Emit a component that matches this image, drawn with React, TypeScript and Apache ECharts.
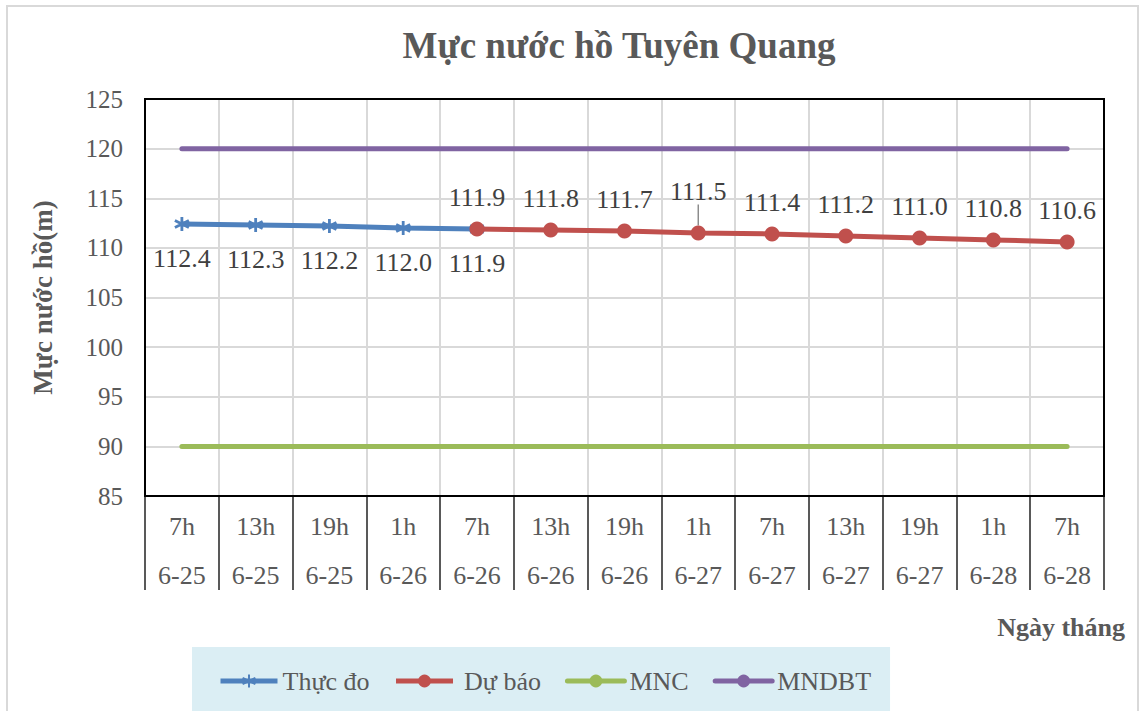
import React, { useEffect, useRef } from "react";
import * as echarts from "echarts";

const hours = ["7h", "13h", "19h", "1h", "7h", "13h", "19h", "1h", "7h", "13h", "19h", "1h", "7h"];
const dates = ["6-25", "6-25", "6-25", "6-26", "6-26", "6-26", "6-26", "6-27", "6-27", "6-27", "6-27", "6-28", "6-28"];
const thucDo = [112.4, 112.3, 112.2, 112.0, 111.9, null, null, null, null, null, null, null, null];
const duBao = [null, null, null, null, 111.9, 111.8, 111.7, 111.5, 111.4, 111.2, 111.0, 110.8, 110.6];
const mnc = [90, 90, 90, 90, 90, 90, 90, 90, 90, 90, 90, 90, 90];
const mndbt = [120, 120, 120, 120, 120, 120, 120, 120, 120, 120, 120, 120, 120];
const yTicks = { min: 85, max: 125, interval: 5 };

const FONT = "'Liberation Serif', 'Times New Roman', Times, serif";
const GRID = { left: 145, top: 99, right: 38, bottom: 215 };

export default function App() {
  const ref = useRef<HTMLDivElement>(null);
  useEffect(() => {
    if (!ref.current) return;
    const chart = echarts.init(ref.current, null, { renderer: "svg" });
    const categories = hours.map((h, i) => h + "\n" + dates[i]);
    const starPath = "path://M5,0L5,10M0.7,2.5L9.3,7.5M0.7,7.5L9.3,2.5";
    const fmt = (p: any) => Number(p.value).toFixed(1);
    chart.setOption({
      animation: false,
      backgroundColor: "#ffffff",
      textStyle: { fontFamily: FONT },
      title: {
        text: "Mực nước hồ Tuyên Quang",
        left: 614,
        top: 22,
        textAlign: "center",
        textStyle: { fontFamily: FONT, fontSize: 37, fontWeight: "bold", color: "#595959" },
      },
      grid: { ...GRID, containLabel: false },
      legend: {
        left: 192,
        top: 647,
        backgroundColor: "#dbeef4",
        padding: [21, 19, 23, 26],
        itemWidth: 57,
        itemHeight: 16,
        itemGap: 24,
        lineStyle: { width: 5 },
        textStyle: { fontFamily: FONT, fontSize: 26, color: "#595959" },
        data: [
          { name: "Thực đo" },
          { name: "Dự báo", textStyle: { padding: [0, 0, 0, 6] } },
          { name: "MNC" },
          { name: "MNDBT" },
        ],
      },
      xAxis: {
        type: "category",
        data: categories,
        boundaryGap: true,
        axisLine: { show: false },
        axisTick: { show: true, interval: 0, length: 94, lineStyle: { color: "#222", width: 1.5 } },
        axisLabel: {
          interval: 0,
          fontFamily: FONT,
          fontSize: 26,
          color: "#595959",
          lineHeight: 49,
          margin: 6,
        },
        splitLine: { show: true, interval: 0, lineStyle: { color: "#d9d9d9", width: 2 } },
      },
      yAxis: {
        type: "value",
        min: yTicks.min,
        max: yTicks.max,
        interval: yTicks.interval,
        axisLine: { show: false },
        axisTick: { show: false },
        axisLabel: { fontFamily: FONT, fontSize: 25, color: "#595959", margin: 22 },
        splitLine: { show: true, lineStyle: { color: "#d9d9d9", width: 2 } },
        name: "Mực nước hồ(m)",
        nameLocation: "middle",
        nameGap: 89,
        nameTextStyle: { fontFamily: FONT, fontSize: 27, fontWeight: "bold", color: "#595959" },
      },
      graphic: [
        {
          type: "rect",
          shape: { x: 7, y: 6, width: 1131, height: 720 },
          style: { fill: "none", stroke: "#d9d9d9", lineWidth: 2 },
          z: -10,
          silent: true,
        },
        {
          type: "rect",
          shape: { x: 145, y: 99, width: 959, height: 397 },
          style: { fill: "none", stroke: "#000", lineWidth: 2 },
          z: 50,
          silent: true,
        },
        {
          type: "text",
          right: 17,
          top: 614,
          style: { text: "Ngày tháng", fontFamily: FONT, fontSize: 26, fontWeight: "bold", fill: "#595959" },
        },
      ],
      series: [
        {
          name: "Thực đo",
          type: "line",
          data: thucDo,
          color: "#4F81BD",
          lineStyle: { width: 5, color: "#4F81BD" },
          symbol: starPath,
          symbolSize: 14,
          showAllSymbol: true,
          itemStyle: { color: "#4F81BD", borderColor: "#4F81BD", borderWidth: 2.8 },
          label: {
            show: true,
            position: "bottom",
            distance: 13,
            fontFamily: FONT,
            fontSize: 26,
            color: "#404040",
            formatter: fmt,
          },
          z: 3,
        },
        {
          name: "Dự báo",
          type: "line",
          data: duBao.map((v, i) => (i === 7 ? { value: v, labelLine: { show: true } } : v)),
          color: "#C0504D",
          lineStyle: { width: 5, color: "#C0504D" },
          symbol: "circle",
          symbolSize: 15,
          itemStyle: { color: "#C0504D" },
          label: {
            show: true,
            position: "top",
            distance: 11,
            fontFamily: FONT,
            fontSize: 26,
            color: "#404040",
            formatter: fmt,
          },
          labelLine: { show: false, lineStyle: { color: "#8c8c8c", width: 1.5 } },
          labelLayout: (p: any) => (p.dataIndex === 7 ? { dy: -10 } : {}),
          z: 4,
        },
        {
          name: "MNC",
          type: "line",
          data: mnc,
          color: "#9BBB59",
          lineStyle: { width: 5, color: "#9BBB59", cap: "round" },
          symbol: "none",
        },
        {
          name: "MNDBT",
          type: "line",
          data: mndbt,
          color: "#8064A2",
          lineStyle: { width: 5, color: "#8064A2", cap: "round" },
          symbol: "none",
        },
      ],
    });
    return () => chart.dispose();
  }, []);
  return (
    <div
      ref={ref}
      style={{ position: "fixed", left: 0, top: 0, width: 1142, height: 711, background: "#fff" }}
    />
  );
}
